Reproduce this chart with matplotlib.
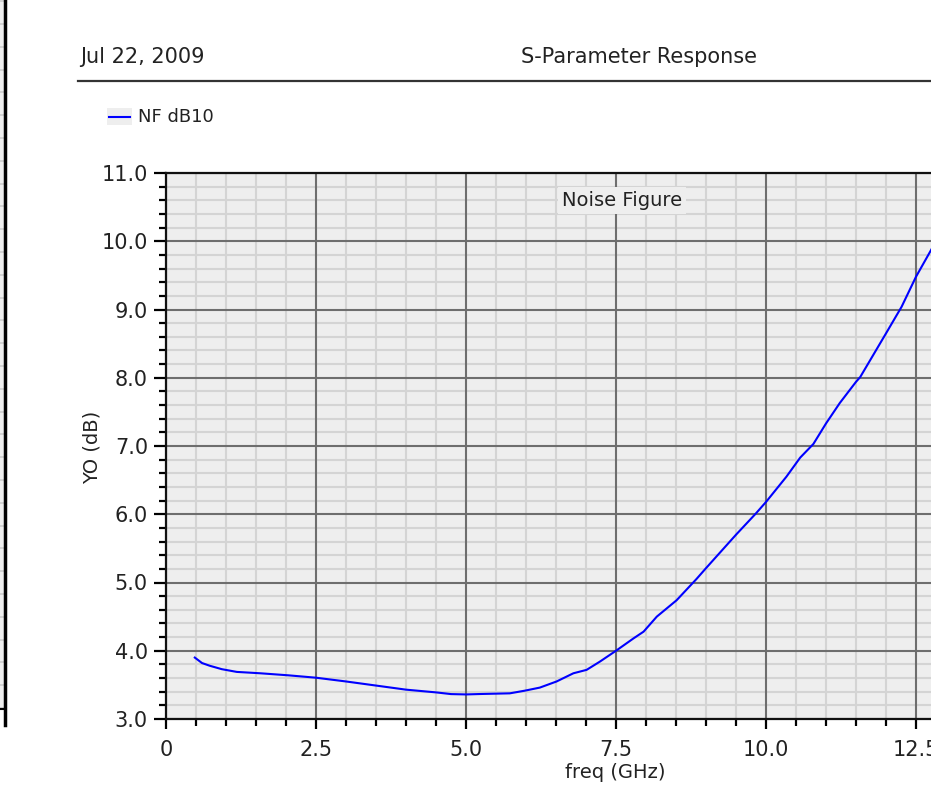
import numpy as np
import matplotlib
matplotlib.use('Agg')
import matplotlib.pyplot as plt
from matplotlib.ticker import MultipleLocator, FormatStrFormatter, FixedLocator
from matplotlib.lines import Line2D
from matplotlib.patches import Rectangle

# noise figure vs frequency
freq = [0.48, 0.6, 0.73, 0.93, 1.18, 1.57, 2.04, 2.5, 3.0, 3.5, 4.0, 4.5, 4.75,
        5.0, 5.23, 5.73, 5.98, 6.23, 6.51, 6.79, 7.01, 7.23, 7.5, 7.79, 7.96,
        8.18, 8.51, 8.84, 9.0, 9.5, 9.83, 10.0, 10.34, 10.57, 10.79, 11.0,
        11.23, 11.5, 11.57, 12.0, 12.26, 12.5, 12.75, 12.8]
nf = [3.90, 3.82, 3.78, 3.73, 3.69, 3.67, 3.64, 3.605, 3.55, 3.49, 3.43, 3.39,
      3.365, 3.36, 3.366, 3.376, 3.415, 3.46, 3.55, 3.67, 3.72, 3.84, 4.00,
      4.18, 4.28, 4.50, 4.74, 5.05, 5.21, 5.70, 6.01, 6.18, 6.55, 6.83, 7.03,
      7.33, 7.63, 7.94, 8.01, 8.65, 9.04, 9.48, 9.87, 9.95]

x_ticks = [0, 2.5, 5.0, 7.5, 10.0, 12.5]
x_labels = ['0', '2.5', '5.0', '7.5', '10.0', '12.5']
y_ticks = [3.0, 4.0, 5.0, 6.0, 7.0, 8.0, 9.0, 10.0, 11.0]

W, H = 931, 798
plt.rcParams['font.family'] = ['DejaVu Sans']

fig = plt.figure(figsize=(W / 100, H / 100), dpi=100)
fig.patch.set_facecolor('white')

# main plot, right side runs past the screenshot edge (0..15 GHz)
ax = fig.add_axes([166 / W, 79 / H, 900 / W, 546 / H])
ax.set_facecolor('#eeeeee')
ax.plot(freq, nf, color='#0000ff', lw=1.5, zorder=3)
ax.set_xlim(0, 15)
ax.set_ylim(3.0, 11.0)
ax.xaxis.set_major_locator(FixedLocator(x_ticks))
ax.set_xticklabels(x_labels)
ax.xaxis.set_minor_locator(MultipleLocator(0.5))
ax.yaxis.set_major_locator(FixedLocator(y_ticks))
ax.yaxis.set_minor_locator(MultipleLocator(0.2))
ax.yaxis.set_major_formatter(FormatStrFormatter('%.1f'))
ax.set_axisbelow(True)
ax.grid(which='minor', color='#d4d4d4', lw=1.5)
# major grid on top of the minor one
for xv in x_ticks:
    ax.axvline(xv, color='#6e6e6e', lw=1.5, zorder=1.5)
for yv in y_ticks:
    ax.axhline(yv, color='#6e6e6e', lw=1.5, zorder=1.5)
for s in ['left', 'top', 'bottom', 'right']:
    ax.spines[s].set_color('#111111')
    ax.spines[s].set_linewidth(1.6)
ax.tick_params(which='major', length=9, width=1.6, labelsize=15,
               labelcolor='#222222', pad=4)
ax.tick_params(which='minor', length=5, width=1.6)
ax.tick_params(axis='x', which='major', length=7, pad=8)

ax.text(7.6, 10.6, 'Noise Figure', ha='center', va='center', fontsize=14,
        color='#222222', zorder=4,
        bbox=dict(facecolor='#eeeeee', edgecolor='none', pad=3))

fig.text(92 / W, 1 - 447 / H, 'YO (dB)', rotation=90, ha='center',
         va='center', fontsize=14, color='#222222')
fig.text(615 / W, 1 - 773 / H, 'freq (GHz)', ha='center', va='center',
         fontsize=14, color='#222222')

# header
fig.text(80 / W, 1 - 57 / H, 'Jul 22, 2009', ha='left', va='center',
         fontsize=15, color='#222222')
fig.text(639 / W, 1 - 57 / H, 'S-Parameter Response', ha='center',
         va='center', fontsize=15, color='#222222')
fig.add_artist(Line2D([78 / W, 1], [1 - 81 / H, 1 - 81 / H], color='#333333',
                      lw=1.6))

# legend entry
fig.add_artist(Rectangle((107 / W, 1 - 125 / H), 25 / W, 17 / H,
                         facecolor='#eeeeee', edgecolor='none'))
fig.add_artist(Line2D([109 / W, 130 / W], [1 - 117 / H, 1 - 117 / H],
                      color='#0000ff', lw=1.5))
fig.text(138 / W, 1 - 117 / H, 'NF dB10', ha='left', va='center',
         fontsize=13, color='#222222')

# edge of the neighbouring panel on the left
side = fig.add_axes([0, 1 - 708 / H, 4 / W, 708 / H])
side.set_facecolor('#eeeeee')
side.set_xlim(0, 1)
side.set_ylim(0, 708)
side.yaxis.set_major_locator(MultipleLocator(114))
side.yaxis.set_minor_locator(MultipleLocator(22.8))
side.grid(which='minor', axis='y', color='#cccccc', lw=1.2)
side.grid(which='major', axis='y', color='#555555', lw=1.2)
side.set_xticks([])
side.set_yticks([])
side.tick_params(which='both', length=0)
for s in side.spines.values():
    s.set_visible(False)
fig.add_artist(Line2D([4.5 / W, 4.5 / W], [1 - 725 / H, 1], color='black',
                      lw=2.5))
fig.add_artist(Line2D([0, 4.5 / W], [1 - 709 / H, 1 - 709 / H], color='black',
                      lw=1.5))

fig.savefig('out.png', dpi=100)
